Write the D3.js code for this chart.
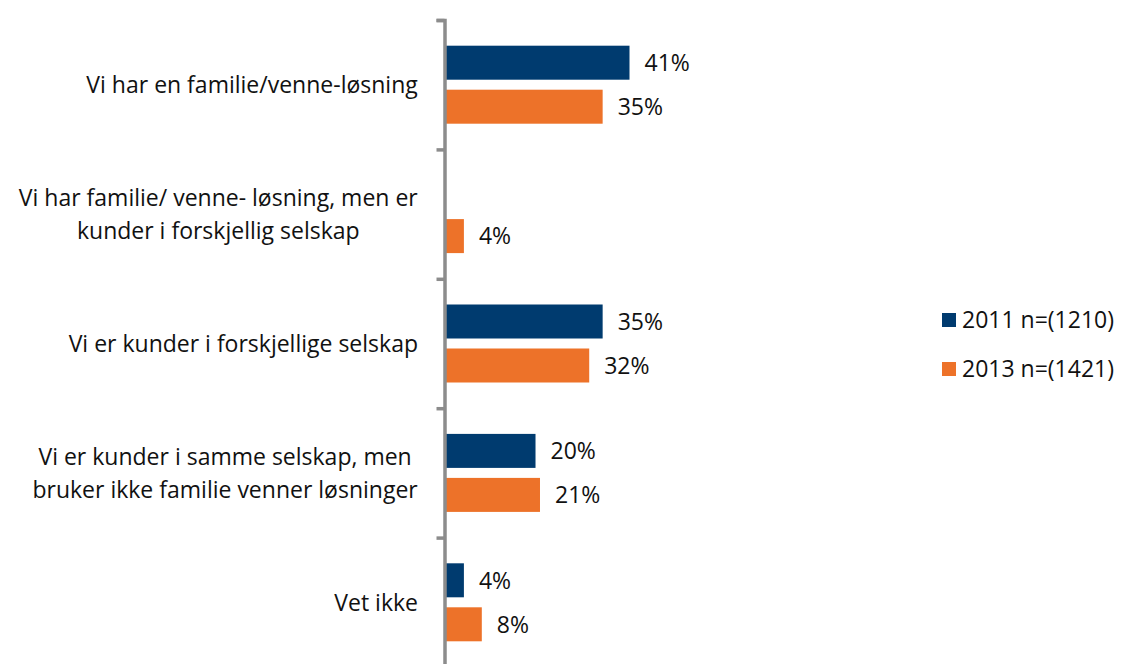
<!DOCTYPE html>
<html>
<head>
<meta charset="utf-8">
<script src="https://cdn.jsdelivr.net/npm/d3@7"></script>
<style>
  body { margin: 0; background: #fff; }
  svg text { font-family: "Open Sans", Lato, sans-serif; fill: #111; }
</style>
</head>
<body>
<svg id="chart"></svg>
<script>
// categories, with line breaks as Excel wraps them
const categories = [
  ["Vi har en familie/venne-løsning"],
  ["Vi har familie/ venne- løsning, men er", "kunder i forskjellig selskap"],
  ["Vi er kunder i forskjellige selskap"],
  ["Vi er kunder i samme selskap, men", "bruker ikke familie venner løsninger"],
  ["Vet ikke"]
];
const seriesNames = ["2011 n=(1210)", "2013 n=(1421)"];
const values2011 = [41, null, 35, 20, 4];
const values2013 = [35, 4, 32, 21, 8];
const colors = ["#003b6f", "#ed7229"];

const width = 1121, height = 664;
const fontSize = "23px";
const svg = d3.select("#chart")
  .attr("width", width)
  .attr("height", height);

const axisX = 443;
const plotTop = 20, plotBottom = 667;

const yScale = d3.scaleBand()
  .domain(d3.range(categories.length))
  .range([plotTop, plotBottom])
  .paddingInner(0);

const groupH = 78;
const inner = d3.scaleBand()
  .domain([0, 1])
  .range([0, groupH])
  .paddingInner(10 / 44);

const xScale = d3.scaleLinear()
  .domain([0, 41])
  .range([axisX + 3, 629.5]);

const series = [values2011, values2013];

const chart = svg.append("g");

series.forEach((vals, s) => {
  const rows = vals.map((v, i) => ({ v: v, i: i })).filter(d => d.v != null);
  const y0 = d => yScale(d.i) + (yScale.bandwidth() - groupH) / 2 + inner(s);

  chart.selectAll(".bar" + s)
    .data(rows)
    .enter()
    .append("rect")
    .attr("class", "bar" + s)
    .attr("x", xScale(0))
    .attr("y", y0)
    .attr("width", d => xScale(d.v) - xScale(0))
    .attr("height", inner.bandwidth())
    .style("fill", colors[s]);

  chart.selectAll(".lab" + s)
    .data(rows)
    .enter()
    .append("text")
    .attr("class", "lab" + s)
    .attr("x", d => xScale(d.v) + 15)
    .attr("y", d => y0(d) + inner.bandwidth() / 2)
    .attr("dy", "0.36em")
    .style("font-size", fontSize)
    .text(d => d.v + "%");
});

// category axis with ticks between categories
const tickScale = d3.scaleLinear()
  .domain([0, categories.length])
  .range([plotTop, plotBottom]);

const axis = chart.append("g")
  .attr("transform", `translate(${axisX + 1.5},0)`)
  .call(d3.axisLeft(tickScale).ticks(categories.length).tickSize(8).tickFormat("").tickSizeOuter(8));
axis.selectAll("path, line")
  .attr("stroke", "#8c8c8c")
  .attr("stroke-width", 3.5);

// category labels: lines centred on each other, right edge at the axis
const labelRight = 418;
const lineH = 33;
categories.forEach((lines, i) => {
  const cy = yScale(i) + yScale.bandwidth() / 2;
  const t = chart.append("text")
    .attr("text-anchor", "middle")
    .style("font-size", fontSize);
  lines.forEach((ln, k) => {
    t.append("tspan")
      .attr("x", 0)
      .attr("y", cy + (k - (lines.length - 1) / 2) * lineH)
      .attr("dy", "0.36em")
      .text(ln);
  });
  const w = t.node().getBBox().width;
  t.attr("transform", `translate(${labelRight - w / 2},0)`);
});

// legend
const legend = svg.append("g")
  .attr("transform", "translate(942, 313)");

seriesNames.forEach((name, s) => {
  legend.append("rect")
    .attr("x", 0)
    .attr("y", s * 49)
    .attr("width", 14)
    .attr("height", 14)
    .style("fill", colors[s]);
  legend.append("text")
    .attr("x", 20)
    .attr("y", s * 49 + 7)
    .attr("dy", "0.36em")
    .style("font-size", fontSize)
    .text(name);
});
</script>
</body>
</html>
